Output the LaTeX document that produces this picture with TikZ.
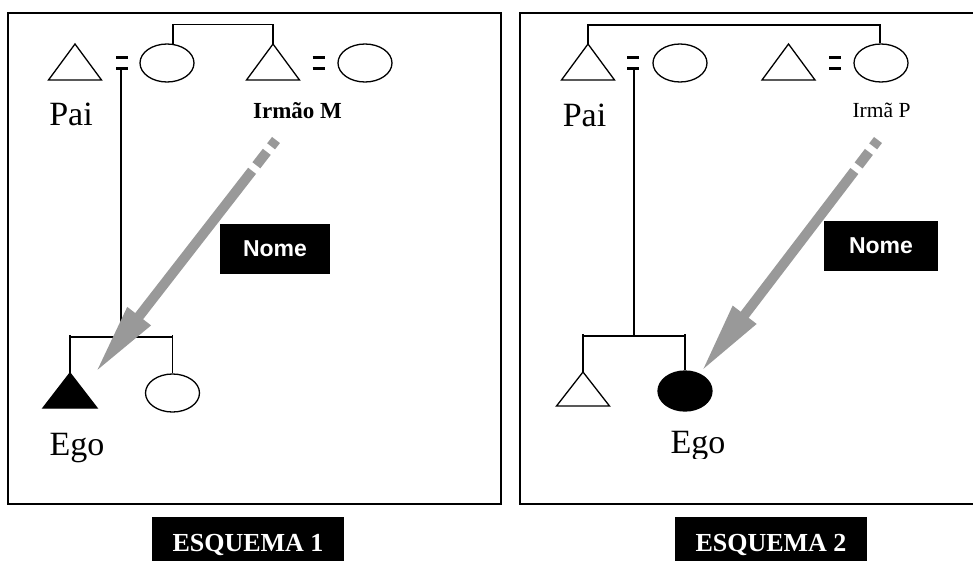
\documentclass[tikz,border=0pt]{standalone}
\usepackage{fontspec}
\setmainfont{Liberation Serif}
\newfontfamily\sansarial{Liberation Sans}
\usetikzlibrary{arrows.meta,shapes.geometric,calc}
\definecolor{arrowgray}{HTML}{999999}
\begin{document}
\begin{tikzpicture}[x=1pt,y=-1pt,
  frame/.style={draw=black,line width=1.6pt},
  ln/.style={draw=black,line width=1.3pt},
  eqbar/.style={draw=black,line width=3pt},
  ell/.style={ellipse,draw=black,line width=1.3pt,minimum width=54pt,minimum height=38pt,inner sep=0pt},
  tri/.style={draw=black,line width=1.3pt,line join=miter},
  gar/.style={draw=arrowgray,line width=10pt,dash pattern=on 8pt off 7pt on 17pt off 7pt on 600pt off 1pt,-{Triangle[length=72pt,width=27pt]}},
  namebox/.style={fill=black,text=white,font=\sansarial\bfseries\fontsize{23}{27}\selectfont,inner sep=0pt,minimum height=50pt},
  esq/.style={fill=black,text=white,font=\bfseries\fontsize{26}{30}\selectfont,inner sep=0pt,minimum width=192pt,minimum height=52pt,text height=17pt,text depth=0pt},
  big/.style={font=\fontsize{34}{40}\selectfont,inner sep=0pt,anchor=base},
  ]
\useasboundingbox (0,0) rectangle (973,560);
\clip (0,0) rectangle (973,560);

% ---------------- Left panel (Esquema 1)
\draw[frame] (8,13) rectangle (501,504);
\coordinate (t1) at (75,44);
\draw[tri] (t1) -- ++(-26.5,36) -- ++(53,0) -- cycle;
\coordinate (q1) at (122,62.5);
\draw[eqbar] ($(q1)+(-6,-5.5)$) -- ++(12,0) ($(q1)+(-6,5.5)$) -- ++(12,0);
\node[ell] (e1) at (167,63) {};
\coordinate (t2) at (273,44);
\draw[tri] (t2) -- ++(-26.5,36) -- ++(53,0) -- cycle;
\coordinate (q2) at (318.5,62.5);
\draw[eqbar] ($(q2)+(-6,-5.5)$) -- ++(12,0) ($(q2)+(-6,5.5)$) -- ++(12,0);
\node[ell] (e2) at (365,63) {};
\draw[ln] ($(e1.north)+(6,0.5)$) -- ++(0,-19.5) -| (t2);
\coordinate (c1) at (121,337);
\draw[ln] ($(q1)+(-1,5.5)$) -- (c1);
\coordinate (t3) at (70,373);
\draw[tri,fill=black] (t3) -- ++(-27,35) -- ++(54,0) -- cycle;
\node[ell] (e3) at (172.5,393) {};
\draw[ln] (t3) -- ($(t3 |- c1)+(0,-2)$) ($(t3 |- c1)$) -- ($(e3.north |- c1)$) ($(e3.north |- c1)+(0,-2)$) -- (e3.north);
\coordinate (a1) at (276,140);
\coordinate (b1) at (95,373);
\draw[gar] (a1) -- (b1);
\node[big] (pai1) at (71,125) {Pai};
\node[font=\bfseries\fontsize{23}{27}\selectfont,anchor=base,inner sep=0pt] (irm1) at (297.5,118) {Irmão M};
\node[big] (ego1) at (77,455) {Ego};
\node[namebox,minimum width=110pt] (n1) at (275,249) {Nome};
\node[esq] (s1) at (248,543) {ESQUEMA 1};

% ---------------- Right panel (Esquema 2)
\draw[frame] (520,13) rectangle (990,504);
\coordinate (t4) at (588,44);
\draw[tri] (t4) -- ++(-26.5,36) -- ++(53,0) -- cycle;
\coordinate (q3) at (633,62.5);
\draw[eqbar] ($(q3)+(-6,-5.5)$) -- ++(12,0) ($(q3)+(-6,5.5)$) -- ++(12,0);
\node[ell] (e4) at (680,63) {};
\coordinate (t5) at (788.5,44);
\draw[tri] (t5) -- ++(-26.5,36) -- ++(53,0) -- cycle;
\coordinate (q4) at (835,62.5);
\draw[eqbar] ($(q4)+(-6,-5.5)$) -- ++(12,0) ($(q4)+(-6,5.5)$) -- ++(12,0);
\node[ell] (e5) at (881,63) {};
\draw[ln] (t4) -- ++(0,-19) -| ($(e5.north)+(-1,0)$);
\coordinate (c2) at (634,336);
\draw[ln] ($(q3)+(1,5.5)$) -- (c2);
\coordinate (t6) at (583,372);
\draw[tri] (t6) -- ++(-26.5,34) -- ++(53,0) -- cycle;
\node[ell,fill=black,minimum height=40pt] (e6) at (685,391) {};
\draw[ln] (t6) -- ($(t6 |- c2)+(0,-2)$) ($(t6 |- c2)$) -- ($(e6.north |- c2)$) ($(e6.north |- c2)+(0,-2)$) -- (e6.north);
\coordinate (a2) at (878,140);
\coordinate (b2) at (701,372);
\draw[gar] (a2) -- (b2);
\node[big] (pai2) at (584.5,126) {Pai};
\node[font=\fontsize{21.5}{26}\selectfont,anchor=base,inner sep=0pt] (irm2) at (881.5,117) {Irmã P};
\begin{scope}
  \clip (600,380) rectangle (800,458);
  \node[big] (ego2) at (698,453) {Ego};
\end{scope}
\node[namebox,minimum width=114pt] (n2) at (881,246) {Nome};
\node[esq] (s2) at (771,543) {ESQUEMA 2};
\end{tikzpicture}
\end{document}
